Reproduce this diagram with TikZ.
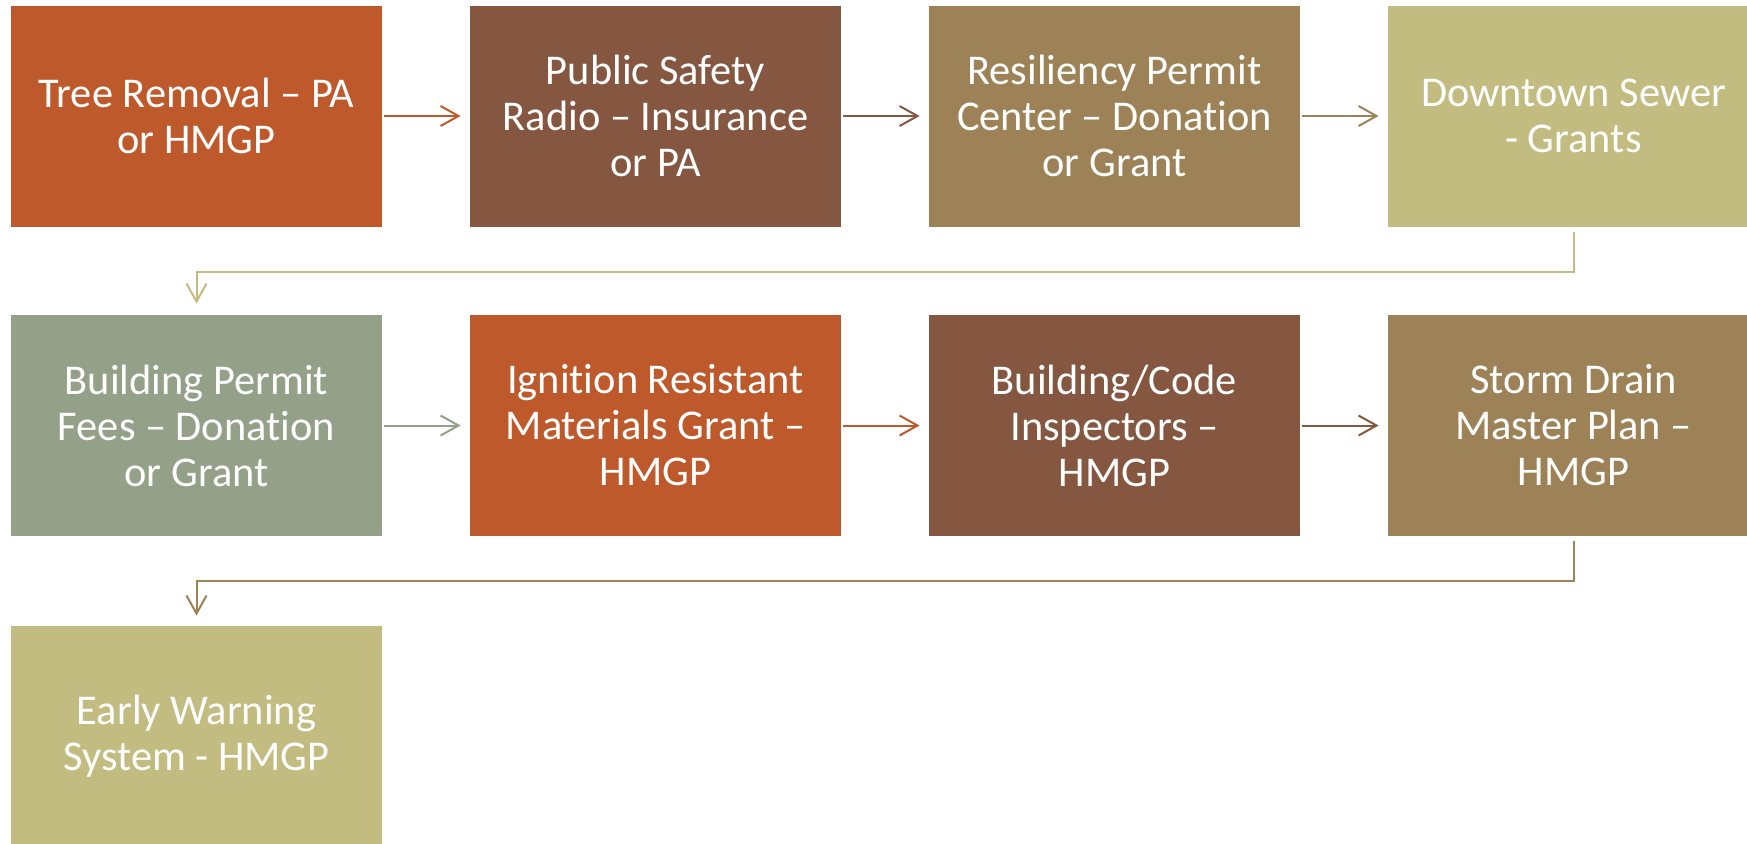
\documentclass[tikz,border=0pt]{standalone}
\usepackage{fontspec}
\setmainfont{Carlito}[Ligatures={NoCommon}]
\usepackage{tikz}
\usetikzlibrary{arrows.meta}
\usepackage{xcolor}

\definecolor{rust}{RGB}{190,89,44}
\definecolor{cocoa}{RGB}{133,86,64}
\definecolor{bronze}{RGB}{156,130,86}
\definecolor{khaki}{RGB}{195,188,129}
\definecolor{sage}{RGB}{148,160,136}

\tikzset{
    stepbox/.style={rectangle, minimum width=185.5pt, minimum height=110.5pt, inner sep=0pt, text=white, align=center, font=\fontsize{21.2}{23}\selectfont},
    link/.style={-{Straight Barb[length=9pt, width=10pt]}, line width=1pt, shorten <=1pt, shorten >=4.5pt},
    elbow/.style={-{Straight Barb[length=9pt, width=10pt]}, line width=1pt, shorten <=2.5pt, shorten >=5.5pt}
}

\begin{document}
\begin{tikzpicture}[x=0.5pt, y=-0.5pt]
        \useasboundingbox (0,0) rectangle (1747,843);
        \clip (0,0) rectangle (1747,843);

        \node[stepbox, fill=rust] (tree) at (196.5,116) {Tree Removal -- PA\\or HMGP};
        \node[stepbox, fill=cocoa] (radio) at (655.5,116) {Public Safety\\Radio -- Insurance\\or PA};
        \node[stepbox, fill=bronze] (center) at (1114.5,116) {Resiliency Permit\\Center -- Donation\\or Grant};
        \node[stepbox, fill=khaki] (sewer) at (1573.5,116) {Downtown Sewer\\- Grants};

        \node[stepbox, fill=sage] (fees) at (196.5,425.5) {Building Permit\\Fees -- Donation\\or Grant};
        \node[stepbox, fill=rust] (ignite) at (655.5,425.5) {Ignition Resistant\\Materials Grant --\\HMGP};
        \node[stepbox, fill=cocoa] (inspect) at (1114.5,425.5) {Building/Code\\Inspectors --\\HMGP};
        \node[stepbox, fill=bronze] (storm) at (1573.5,425.5) {Storm Drain\\Master Plan --\\HMGP};

        \node[stepbox, fill=khaki] (warn) at (196.5,736.5) {Early Warning\\System - HMGP};

        \draw[link, rust] (tree.east)--(radio.west);
        \draw[link, cocoa] (radio.east)--(center.west);
        \draw[link, bronze] (center.east)--(sewer.west);
        \draw[elbow, khaki] (sewer.south)--++(0,45) -| (fees.north);

        \draw[link, sage] (fees.east)--(ignite.west);
        \draw[link, rust] (ignite.east)--(inspect.west);
        \draw[link, cocoa] (inspect.east)--(storm.west);
        \draw[elbow, bronze, shorten >=5pt] (storm.south)--++(0,45) -| (warn.north);
    \end{tikzpicture}
\end{document}
